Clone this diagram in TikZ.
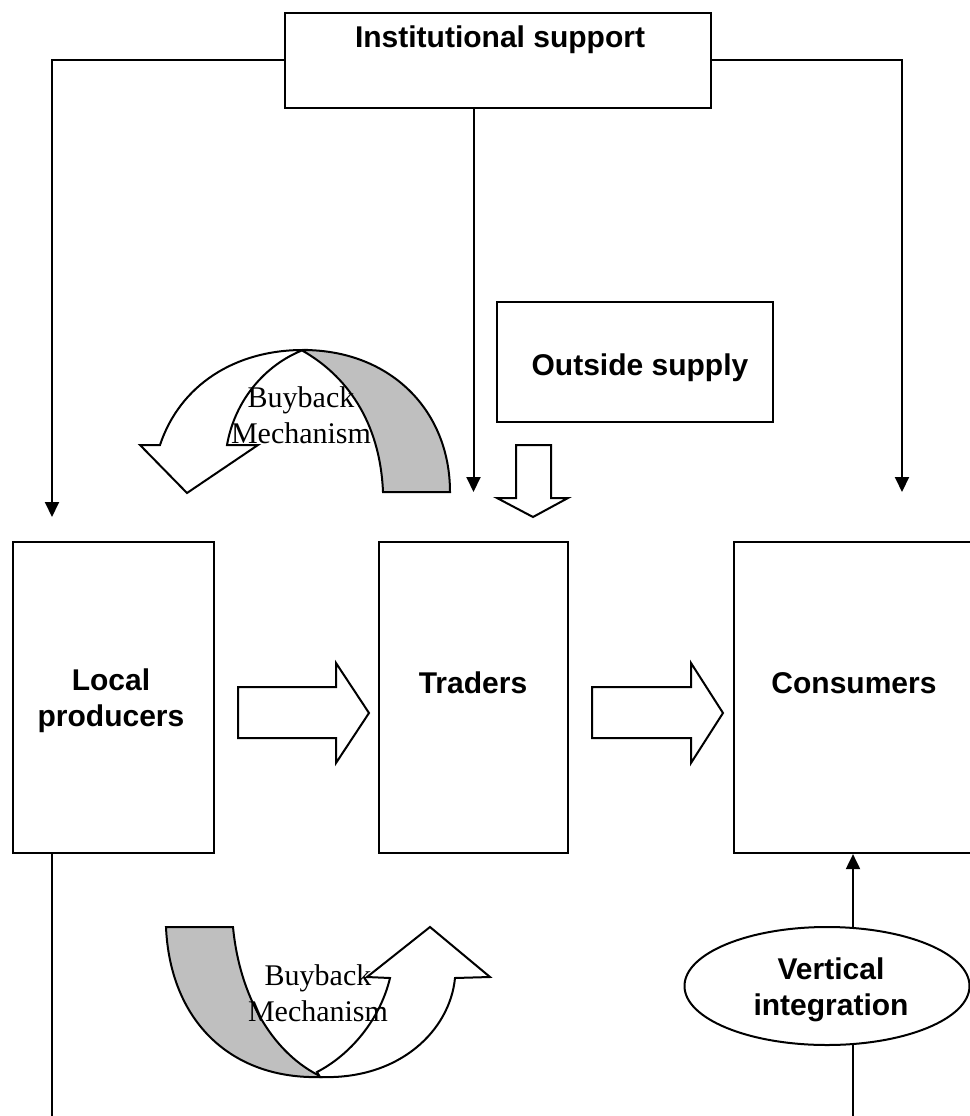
\documentclass[tikz,border=0pt]{standalone}
\usepackage{fontspec}
\setmainfont{Liberation Sans}
\newfontfamily\serifcurve{Liberation Serif}
\usetikzlibrary{arrows.meta,shapes.geometric}
\begin{document}
\begin{tikzpicture}[x=1pt,y=-1pt,
 box/.style={draw,line width=2.2pt,inner sep=0pt},
 lbl/.style={font=\bfseries\fontsize{30}{36}\selectfont,align=center},
 bb/.style={font=\serifcurve\fontsize{30}{36}\selectfont,align=center},
 conn/.style={line width=2pt},
 arr/.style={conn,-{Triangle[length=15pt,width=14pt]}},
 blk/.style={draw,line width=2pt,fill=white,line join=miter},
 shadeband/.style={draw,line width=2pt,fill=black!25}]
\useasboundingbox (0,0) rectangle (969,1116);

% boxes
\node[box,minimum width=426pt,minimum height=95pt] (inst) at (498,60.5) {};
\node[lbl] (instt) at (500,40) {Institutional support};
\node[box,minimum width=276pt,minimum height=120pt] (out) at (635,362) {};
\node[lbl] (outt) at (640,368) {Outside supply};
\node[box,minimum width=201pt,minimum height=311pt] (lp) at (113.5,697.5) {};
\node[lbl] (lpt) at (111,701) {Local\\producers};
\node[box,minimum width=189pt,minimum height=311pt] (tr) at (473.5,697.5) {};
\node[lbl] (trt) at (473,683) {Traders};
\node[box,minimum width=240pt,minimum height=311pt] (cons) at (854,697.5) {};
\node[lbl] (const) at (854,683) {Consumers};
\node[draw,ellipse,line width=2pt,minimum width=285pt,minimum height=118pt,inner sep=0pt] (vi) at (827,986) {};
\node[lbl] (vit) at (831,990) {Vertical\\integration};

% connectors
\coordinate (lpin) at (52,517);
\coordinate (trin) at (473.5,492);
\coordinate (coin) at (902,492);
\draw[arr] (inst.west) -| (lpin);
\draw[arr] (inst.east) -| (coin);
\draw[arr] (inst.south -| trin) -- (trin);
\coordinate (vitop) at (853,928);
\draw[arr] (vitop) -- (vitop |- cons.south);
\coordinate (vibot) at (853,1044);
\coordinate (bot1) at (853,1116);
\draw[conn] (vibot) -- (bot1);
\coordinate (bot2) at (52,1116);
\draw[conn] (lp.south -| bot2) -- (bot2);

% block arrows
\path[blk] (516,445) -- (551,445) -- (551,498) -- (568,498) -- (533,517) -- (497,498) -- (516,498) -- cycle;
\path[blk] (238,687) -- (336,687) -- (336,663) -- (369,713) -- (336,763) -- (336,738) -- (238,738) -- cycle;
\path[blk] (592,687) -- (691,687) -- (691,663) -- (723,713) -- (691,763) -- (691,738) -- (592,738) -- cycle;

% upper buyback arrow
\path[shadeband] (303,350) .. controls (390,350) and (450,410) .. (450,492) -- (383,492) .. controls (380,420) and (345,375) .. (303,351) -- cycle;
\path[blk] (160,445) .. controls (180,385) and (235,350) .. (303,350) .. controls (265,365) and (235,400) .. (227,445) -- (258,445) -- (187,493) -- (140,445) -- cycle;
\node[bb] (bb1) at (301,415) {Buyback\\Mechanism};

% lower buyback arrow
\path[shadeband] (166,927) -- (233,927) .. controls (240,1000) and (275,1055) .. (322,1077) .. controls (230,1080) and (170,1020) .. (166,927) -- cycle;
\path[blk] (320,1077) .. controls (400,1080) and (450,1030) .. (455,978) -- (490,977) -- (430,927) -- (367,977) -- (390,978) .. controls (380,1020) and (350,1055) .. (317,1072) -- cycle;
\node[bb] (bb2) at (318,993) {Buyback\\Mechanism};
\end{tikzpicture}
\end{document}
